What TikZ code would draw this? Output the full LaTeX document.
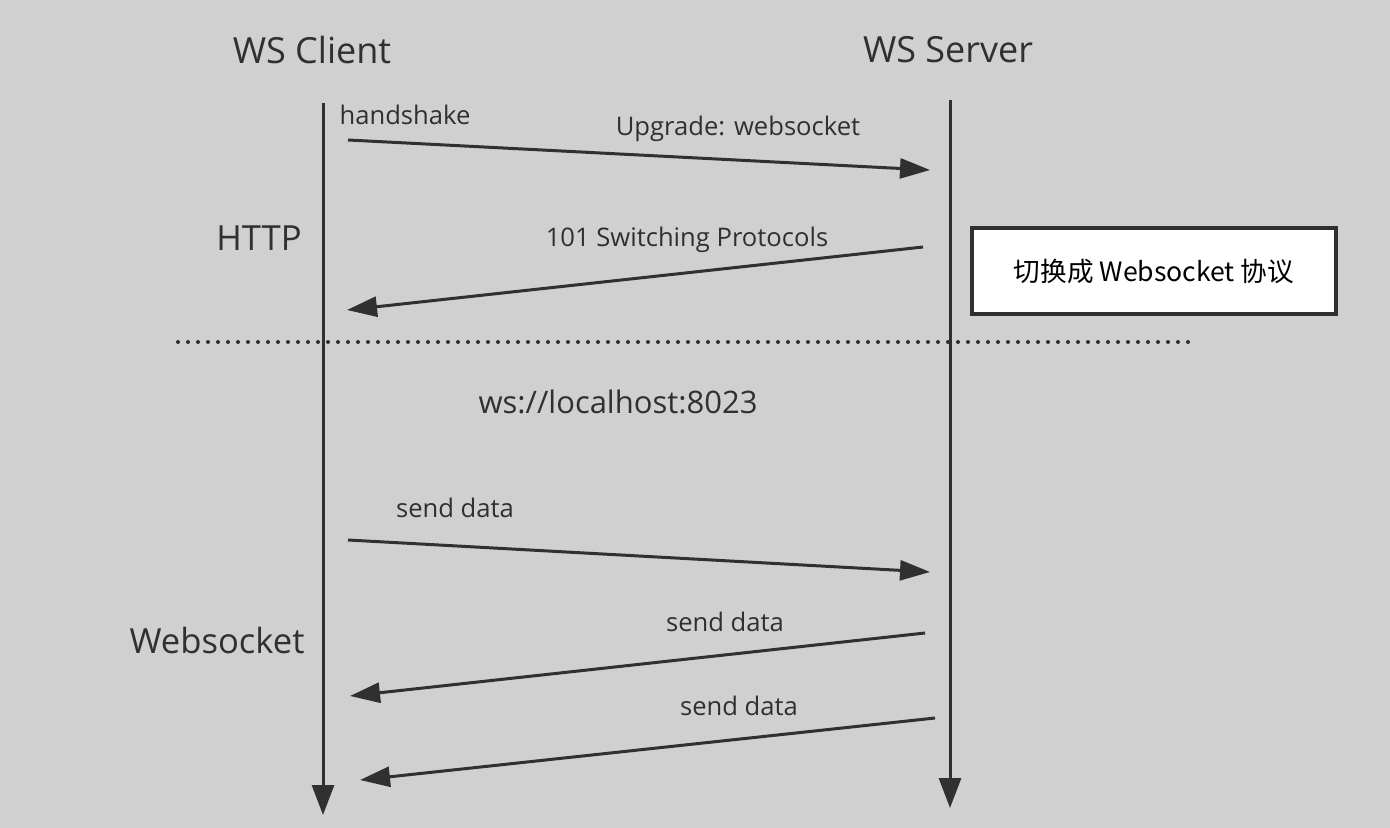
\documentclass[tikz,border=0pt]{standalone}
\usepackage{fontspec}
\setmainfont{Open Sans}
\newfontfamily\cjkfont{Noto Sans CJK SC}
\usetikzlibrary{arrows.meta,positioning}
\definecolor{bggray}{HTML}{D0D0D0}
\definecolor{inkgray}{HTML}{303030}
\tikzset{
actor/.style = {font=\fontsize{18}{20}\selectfont, text=inkgray},% titre acteur
phase/.style = {font=\fontsize{17.3}{20}\selectfont, text=inkgray},% nom de phase
msg/.style = {font=\fontsize{12.8}{15}\selectfont, text=inkgray},% etiquette message
lifeline/.style = {draw=inkgray, line width=1.5pt, -{Triangle[length=15pt,width=11pt]}},% ligne de vie
msgarrow/.style = {draw=inkgray, line width=1.5pt, -{Triangle[length=15pt,width=10pt]}},% fleche message
notebox/.style = {draw=inkgray, fill=white, line width=1.6pt, minimum width=182pt, minimum height=43pt, font=\cjkfont\fontsize{13.3}{15}\selectfont}
}
\begin{document}
\begin{tikzpicture}[x=0.5pt, y=-0.5pt]
	\fill[bggray] (0,0) rectangle (1390,828);
	\useasboundingbox (0,0) rectangle (1390,828);
	% acteurs
	\node [actor] (client) at (312,50) {WS Client};
	\node [actor] (server) at (948,50) {WS Server};
	\coordinate (cTop) at (323,103);
	\coordinate (cBot) at (323,815);
	\coordinate (sTop) at (950,100);
	\coordinate (sBot) at (950,808);
	\draw [lifeline] (cTop) -- (cBot);
	\draw [lifeline] (sTop) -- (sBot);
	% HTTP
	\node [phase] (http) at (259,238) {HTTP};
	\node [msg] (hs) at (405,115) {handshake};
	\node [msg] (upg) at (738,129) {Upgrade: websocket};
	\coordinate (m1a) at (348,140);
	\coordinate (m1b) at (930,170);
	\draw [msgarrow] (m1a) -- (m1b);
	\node [msg] (sw) at (687,240) {101 Switching Protocols};
	\coordinate (m2a) at (923,247);
	\coordinate (m2b) at (347,310);
	\draw [msgarrow] (m2a) -- (m2b);
	\node [notebox] (note) at (1154,271) {切换成 Websocket 协议};
	% separation
	\coordinate (sepL) at (178,342);
	\coordinate (sepR) at (1192,342);
	\draw [inkgray, line width=2pt, line cap=round, dash pattern=on 0pt off 5pt] (sepL) -- (sepR);
	\node [msg, font=\fontsize{15.5}{18}\selectfont] (url) at (618,402) {ws://localhost:8023};
	% Websocket
	\node [phase] (ws) at (217,641) {Websocket};
	\node [msg] (d1) at (455,508) {send data};
	\coordinate (m3a) at (348,540);
	\coordinate (m3b) at (930,572);
	\draw [msgarrow] (m3a) -- (m3b);
	\node [msg] (d2) at (725,622) {send data};
	\coordinate (m4a) at (925,633);
	\coordinate (m4b) at (350,696);
	\draw [msgarrow] (m4a) -- (m4b);
	\node [msg] (d3) at (739,706) {send data};
	\coordinate (m5a) at (935,718);
	\coordinate (m5b) at (360,780);
	\draw [msgarrow] (m5a) -- (m5b);
\end{tikzpicture}
\end{document}
